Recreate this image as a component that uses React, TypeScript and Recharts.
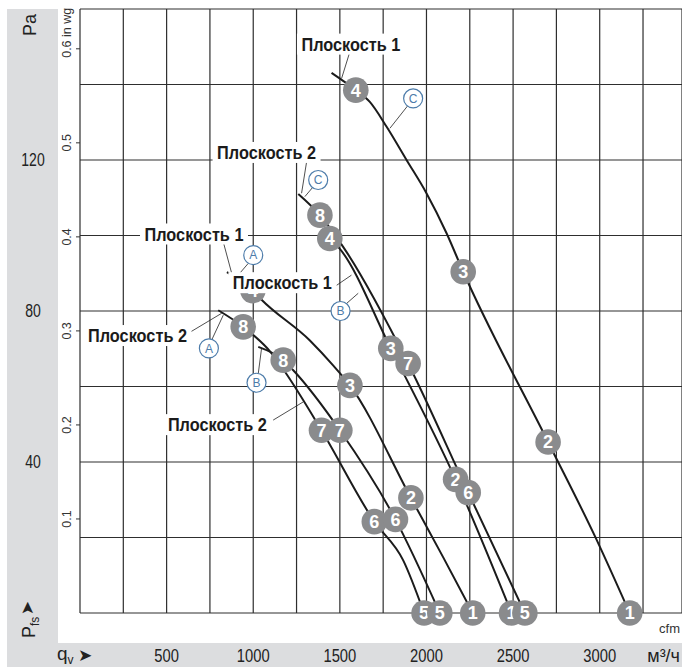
import {
  CartesianGrid,
  ComposedChart,
  Line,
  ReferenceDot,
  ReferenceLine,
  Scatter,
  XAxis,
  YAxis,
} from "recharts";

const FONT = "'Liberation Sans', Arial, Helvetica, sans-serif";
const GRAY = "#dcdddf";
const INK = "#1b1b1b";
const BLUE = "#4d7caa";

const CFM_TO_M3H = 1.699;
const PA_PER_INWG = 249.09;
const FLOW_MAX = 3475;
const PA_MAX = 160;

// axis ticks
const flowGridTicks = [0, 250, 500, 750, 1000, 1250, 1500, 1750, 2000, 2250, 2500, 2750, 3000, 3250];
const flowLabels = [500, 1000, 1500, 2000, 2500, 3000];
const paTicks = [0, 20, 40, 60, 80, 100, 120, 140, 160];
const paLabels = [40, 80, 120];
const cfmTicks = [0, 400, 800, 1200, 1600];
const inwgTicks = [0.1, 0.2, 0.3, 0.4, 0.5, 0.6];

// curves: q in m³/h, p in Pa, n = operating point number
const curveC1 = [
  { q: 1452, p: 143.1 },
  { q: 1592, p: 138.5, n: 4 },
  { q: 1673, p: 135.4 },
  { q: 1770, p: 128.8 },
  { q: 1885, p: 120.0 },
  { q: 2000, p: 111.2 },
  { q: 2116, p: 100.6 },
  { q: 2212, p: 90.4, n: 3 },
  { q: 2702, p: 45.3, n: 2 },
  { q: 2981, p: 19.5 },
  { q: 3173, p: 0, n: 1 },
];
const curveC2 = [
  { q: 1260, p: 111.0 },
  { q: 1385, p: 105.4, n: 8 },
  { q: 1519, p: 97.0 },
  { q: 1894, p: 66.1, n: 7 },
  { q: 2241, p: 31.9, n: 6 },
  { q: 2568, p: 0, n: 5 },
];
const curveB1 = [
  { q: 1442, p: 99.2, n: 4 },
  { q: 1494, p: 96.8 },
  { q: 1794, p: 70.1, n: 3 },
  { q: 2168, p: 35.4, n: 2 },
  { q: 2491, p: 0, n: 1 },
];
const curveA1 = [
  { q: 848, p: 90.3 },
  { q: 998, p: 85.4, n: 4 },
  { q: 1048, p: 83.0 },
  { q: 1327, p: 72.2 },
  { q: 1461, p: 65.6 },
  { q: 1558, p: 60.3, n: 3 },
  { q: 1910, p: 30.5, n: 2 },
  { q: 2096, p: 14.8 },
  { q: 2267, p: 0, n: 1 },
];
const curveA2 = [
  { q: 798, p: 80.2 },
  { q: 942, p: 75.8, n: 8 },
  { q: 1106, p: 68.8 },
  { q: 1183, p: 63.9 },
  { q: 1394, p: 48.4, n: 7 },
  { q: 1699, p: 24.2, n: 6 },
  { q: 1865, p: 14.0 },
  { q: 1986, p: 0, n: 5 },
];
const curveB2 = [
  { q: 1029, p: 70.5 },
  { q: 1173, p: 67.0, n: 8 },
  { q: 1231, p: 64.3 },
  { q: 1500, p: 48.4, n: 7 },
  { q: 1821, p: 24.8, n: 6 },
  { q: 2077, p: 0, n: 5 },
];

// annotations
const planeLabels = [
  { q: 1564, p: 150.7, text: "Плоскость 1" },
  { q: 1077, p: 122.0, text: "Плоскость 2" },
  { q: 658, p: 100.4, text: "Плоскость 1" },
  { q: 1168, p: 87.5, text: "Плоскость 1" },
  { q: 332, p: 73.5, text: "Плоскость 2" },
  { q: 793, p: 49.9, text: "Плоскость 2" },
];
const typeBadges = [
  { q: 1923, p: 136.3, letter: "C" },
  { q: 1375, p: 114.7, letter: "C" },
  { q: 1000, p: 94.8, letter: "A" },
  { q: 1504, p: 80.0, letter: "B" },
  { q: 744, p: 70.1, letter: "A" },
  { q: 1019, p: 61.0, letter: "B" },
];
const leaders = [
  [1558, 148.7, 1510, 141.6],
  [1894, 134.5, 1789, 128.4],
  [1308, 119.5, 1279, 111.2],
  [1346, 112.9, 1298, 110.3],
  [827, 98.3, 875, 90.1],
  [971, 92.6, 913, 89.5],
  [1481, 86.8, 1567, 89.5],
  [1529, 81.6, 1606, 84.7],
  [625, 74.1, 818, 79.4],
  [760, 72.3, 827, 78.9],
  [1115, 51.1, 1288, 55.9],
  [1029, 63.4, 1048, 70.1],
];

const curves = [
  { id: "c1", points: curveC1 },
  { id: "c2", points: curveC2 },
  { id: "b1", points: curveB1 },
  { id: "a1", points: curveA1 },
  { id: "a2", points: curveA2 },
  { id: "b2", points: curveB2 },
];

const markers = curves
  .flatMap((c) => c.points.filter((pt) => pt.n !== undefined))
  .sort((a, b) => a.q - b.q);

// condensed look: squeeze the text to a fixed width per character
const squeeze = (s: string, perChar: number) => ({
  textLength: s.length * perChar,
  lengthAdjust: "spacingAndGlyphs" as const,
});

function FlowTick({ x, y, payload }: any) {
  if (!flowLabels.includes(payload.value)) return <g />;
  const s = String(payload.value);
  return (
    <text x={x} y={y} dy="0.71em" textAnchor="middle" fontSize={18} fontFamily={FONT} fill="#222" {...squeeze(s, 8.2)}>
      {s}
    </text>
  );
}

function PaTick({ x, y, payload }: any) {
  if (!paLabels.includes(payload.value)) return <g />;
  const s = String(payload.value);
  return (
    <text x={x - 25} y={y} dy="0.36em" textAnchor="middle" fontSize={18} fontFamily={FONT} fill="#222" {...squeeze(s, 7.8)}>
      {s}
    </text>
  );
}

function CfmTick({ x, y, payload }: any) {
  const s = String(payload.value);
  return (
    <text x={x} y={y} dy="0.71em" textAnchor="middle" fontSize={13} fontFamily={FONT} fill="#333" {...squeeze(s, 6.8)}>
      {s}
    </text>
  );
}

function InwgTick({ x, y, payload }: any) {
  const top = payload.value === 0.6;
  const ty = top ? y + 9 : y;
  return (
    <text
      x={x}
      y={ty}
      transform={`rotate(-90 ${x} ${ty})`}
      textAnchor={top ? "start" : "middle"}
      fontSize={12.5}
      fontFamily={FONT}
      fill="#333"
    >
      {top ? "0.6 in wg" : payload.value.toFixed(1)}
    </text>
  );
}

function PointBadge({ cx, cy, payload }: any) {
  return (
    <g>
      <circle cx={cx} cy={cy} r={12.8} fill="#8a8b8d" />
      <text x={cx} y={cy} dy="0.36em" textAnchor="middle" fill="#fff" fontWeight="bold" fontSize={18} fontFamily={FONT}>
        {payload.n}
      </text>
    </g>
  );
}

export default function App() {
  return (
    <div style={{ position: "absolute", left: 0, top: 0, width: 682, height: 668, background: "#fff", overflow: "hidden" }}>
      <div style={{ position: "absolute", left: 7, top: 9, width: 51, height: 658, background: GRAY }} />
      <div style={{ position: "absolute", left: 7, top: 643, width: 675, height: 24, background: GRAY }} />
      <div style={{ position: "absolute", left: 0, top: 0 }}>
        <ComposedChart width={682} height={668} margin={{ top: 9, right: 0, bottom: 0, left: 0 }}>
          <CartesianGrid xAxisId="m3" yAxisId="pa" stroke="#2e2e2e" strokeWidth={1.2} />
          <XAxis
            xAxisId="cfm"
            type="number"
            domain={[0, FLOW_MAX / CFM_TO_M3H]}
            allowDataOverflow
            ticks={cfmTicks}
            interval={0}
            height={30}
            axisLine={false}
            tickSize={5}
            tickMargin={6}
            tickLine={{ stroke: "#333" }}
            tick={<CfmTick />}
          />
          <XAxis
            xAxisId="m3"
            dataKey="q"
            type="number"
            domain={[0, FLOW_MAX]}
            ticks={flowGridTicks}
            interval={0}
            height={25}
            axisLine={false}
            tickLine={false}
            tickSize={0}
            tickMargin={6}
            tick={<FlowTick />}
          />
          <YAxis
            yAxisId="inwg"
            type="number"
            domain={[0, PA_MAX / PA_PER_INWG]}
            allowDataOverflow
            ticks={inwgTicks}
            interval={0}
            width={22}
            axisLine={false}
            tickSize={4}
            tickMargin={5}
            tickLine={{ stroke: "#333" }}
            tick={<InwgTick />}
          />
          <YAxis
            yAxisId="pa"
            dataKey="p"
            type="number"
            domain={[0, PA_MAX]}
            ticks={paTicks}
            interval={0}
            width={58}
            axisLine={false}
            tickLine={false}
            tickSize={0}
            tickMargin={0}
            tick={<PaTick />}
          />
          {curves.map((c) => (
            <Line
              key={c.id}
              data={c.points}
              dataKey="p"
              xAxisId="m3"
              yAxisId="pa"
              type="monotone"
              stroke={INK}
              strokeWidth={2}
              dot={false}
              activeDot={false}
              isAnimationActive={false}
            />
          ))}
          {leaders.map(([q1, p1, q2, p2], i) => (
            <ReferenceLine
              key={`l${i}`}
              xAxisId="m3"
              yAxisId="pa"
              segment={[{ x: q1, y: p1 }, { x: q2, y: p2 }]}
              stroke="#222"
              strokeWidth={0.8}
            />
          ))}
          <Scatter
            data={markers}
            xAxisId="m3"
            yAxisId="pa"
            dataKey="p"
            shape={<PointBadge />}
            isAnimationActive={false}
          />
          {planeLabels.map((l, i) => (
            <ReferenceDot
              key={`p${i}`}
              xAxisId="m3"
              yAxisId="pa"
              x={l.q}
              y={l.p}
              zIndex={700}
              shape={(s: any) => (
                <g>
                  <rect x={s.cx - 54} y={s.cy - 10.5} width={108} height={21} fill="#fff" />
                  <text
                    x={s.cx}
                    y={s.cy}
                    dy="0.36em"
                    textAnchor="middle"
                    fontSize={18.5}
                    fontWeight="bold"
                    fontFamily={FONT}
                    fill={INK}
                    textLength={99}
                    lengthAdjust="spacingAndGlyphs"
                  >
                    {l.text}
                  </text>
                </g>
              )}
            />
          ))}
          {typeBadges.map((b, i) => (
            <ReferenceDot
              key={`b${i}`}
              xAxisId="m3"
              yAxisId="pa"
              x={b.q}
              y={b.p}
              zIndex={710}
              shape={(s: any) => (
                <g>
                  <circle cx={s.cx} cy={s.cy} r={9.5} fill="#fff" stroke={BLUE} strokeWidth={1.2} />
                  <text x={s.cx} y={s.cy} dy="0.36em" textAnchor="middle" fontSize={12} fontFamily={FONT} fill={BLUE}>
                    {b.letter}
                  </text>
                </g>
              )}
            />
          ))}
        </ComposedChart>
      </div>
      <svg width={682} height={668} style={{ position: "absolute", left: 0, top: 0, pointerEvents: "none" }} fontFamily={FONT}>
        <text x={36} y={25} transform="rotate(-90 36 25)" textAnchor="middle" fontSize={18} fill="#222">
          Pa
        </text>
        <text x={35} y={638} transform="rotate(-90 35 638)" fontSize={18} fill="#222">
          P<tspan fontSize={12} dy={4}>fs</tspan>
        </text>
        <text x={33} y={608} transform="rotate(-90 33 608)" textAnchor="middle" fontSize={17} fill="#222" fontFamily="'DejaVu Sans', sans-serif">
          ➤
        </text>
        <text x={57} y={660} fontSize={19} fill="#222">
          q<tspan fontSize={12} dy={4}>v</tspan>
        </text>
        <text x={78} y={661} fontSize={17} fill="#222" fontFamily="'DejaVu Sans', sans-serif">
          ➤
        </text>
        <text x={680} y={662} textAnchor="end" fontSize={18} fill="#222">
          м³/ч
        </text>
        <text x={680} y={633} textAnchor="end" fontSize={13} fill="#333">
          cfm
        </text>
      </svg>
    </div>
  );
}
